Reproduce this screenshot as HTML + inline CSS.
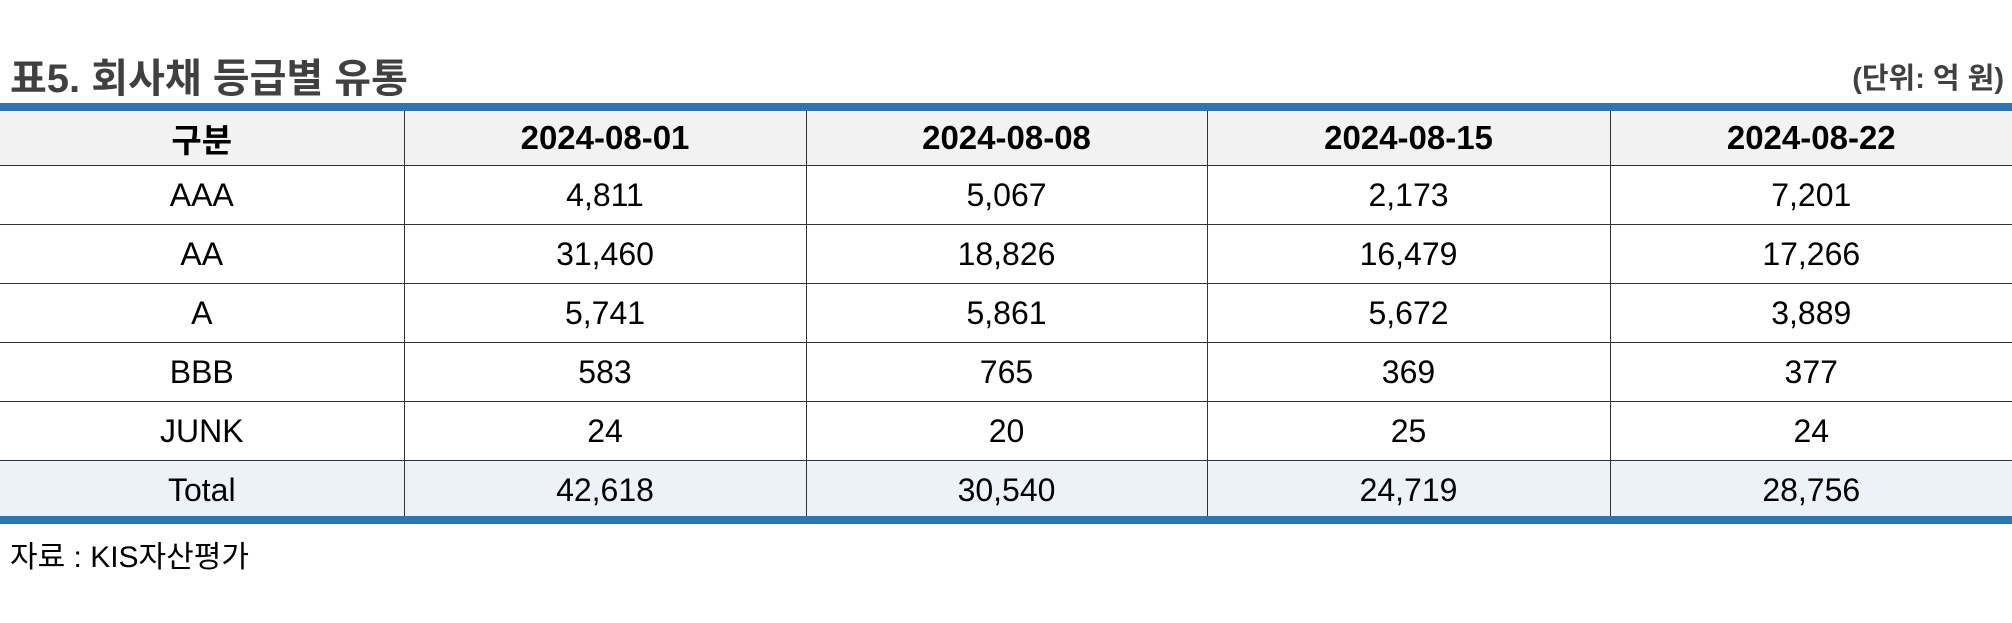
<!DOCTYPE html>
<html><head><meta charset="utf-8"><style>
body{margin:0;width:2012px;height:623px;background:#fff;position:relative;overflow:hidden;font-family:"Liberation Sans","Noto Sans CJK KR",sans-serif;}
.title{position:absolute;left:10px;top:46px;font-size:40px;font-weight:bold;color:#404040;}
.unit{position:absolute;right:8px;top:55px;font-size:29px;font-weight:bold;color:#404040;}
.bar{position:absolute;left:0;width:2012px;height:8px;background:#2e75b6;}
table{position:absolute;left:0;top:111px;width:2012px;border-collapse:collapse;table-layout:fixed;}
td,th{height:58px;padding:0;text-align:center;font-size:32px;color:#000;border-right:1px solid #333;border-bottom:1px solid #333;}
td:last-child,th:last-child{border-right:none;}
th{background:#f2f2f2;height:54px;font-weight:bold;font-size:33px;}
tr.total td{background:#edf2f9;border-bottom:none;}
.src{position:absolute;left:10px;top:532px;font-size:30px;color:#000;}
</style></head><body>
<div class="title">표5. 회사채 등급별 유통</div>
<div class="unit">(단위: 억 원)</div>
<div class="bar" style="top:103px"></div>
<table>
<colgroup><col style="width:404px"><col style="width:402px"><col style="width:401px"><col style="width:403px"><col style="width:402px"></colgroup>
<tr><th>구분</th><th>2024-08-01</th><th>2024-08-08</th><th>2024-08-15</th><th>2024-08-22</th></tr>
<tr><td>AAA</td><td>4,811</td><td>5,067</td><td>2,173</td><td>7,201</td></tr>
<tr><td>AA</td><td>31,460</td><td>18,826</td><td>16,479</td><td>17,266</td></tr>
<tr><td>A</td><td>5,741</td><td>5,861</td><td>5,672</td><td>3,889</td></tr>
<tr><td>BBB</td><td>583</td><td>765</td><td>369</td><td>377</td></tr>
<tr><td>JUNK</td><td>24</td><td>20</td><td>25</td><td>24</td></tr>
<tr class="total"><td>Total</td><td>42,618</td><td>30,540</td><td>24,719</td><td>28,756</td></tr>
</table>
<div class="bar" style="top:516px"></div>
<div class="src">자료 : KIS자산평가</div>
</body></html>
